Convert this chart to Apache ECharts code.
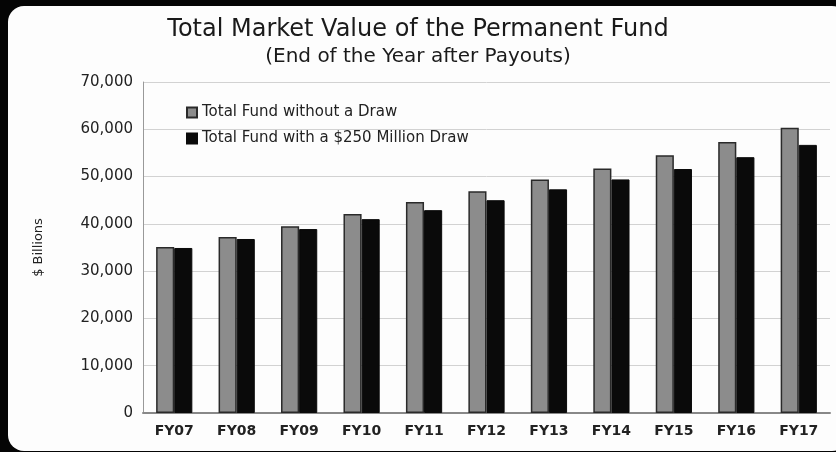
<!DOCTYPE html>
<html>
<head>
    <meta charset="UTF-8">
    <title>Permanent Fund</title>
    <script src="https://cdn.jsdelivr.net/npm/echarts@6/dist/echarts.min.js"></script>
    <style>
        html, body { margin: 0; padding: 0; background: #050505; }
        #frame {
            position: absolute; left: 8px; top: 6px; width: 840px; height: 445px;
            background: #fdfdfd; border-radius: 16px; overflow: hidden;
        }
        #main { position: absolute; left: -8px; top: -6px; width: 836px; height: 452px; }
    </style>
</head>
<body>
<div id="frame">
    <div id="main"></div>
</div>
<script>
    // values
    var years = ['FY07', 'FY08', 'FY09', 'FY10', 'FY11', 'FY12', 'FY13', 'FY14', 'FY15', 'FY16', 'FY17'];
    var noDraw = [35100, 37200, 39500, 42100, 44600, 46900, 49400, 51700, 54500, 57300, 60300];
    var withDraw = [34900, 36800, 38900, 41000, 42900, 45000, 47300, 49400, 51600, 54100, 56700];
    var seriesNames = ['Total Fund without a Draw', 'Total Fund with a $250 Million Draw'];

    var myChart = echarts.init(document.getElementById('main'));
    var font = '"DejaVu Sans", Verdana, sans-serif';

    var option = {
        backgroundColor: 'transparent',
        animation: false,
        title: {
            text: 'Total Market Value of the Permanent Fund',
            subtext: '(End of the Year after Payouts)',
            left: 'center',
            top: 13,
            itemGap: 5,
            textStyle: { fontFamily: font, fontSize: 24, fontWeight: 'normal', color: '#1a1a1a' },
            subtextStyle: { fontFamily: font, fontSize: 20, color: '#1a1a1a' }
        },
        legend: {
            orient: 'vertical',
            left: 181,
            top: 100,
            itemWidth: 10,
            itemHeight: 10,
            itemGap: 11,
            icon: 'rect',
            textStyle: { fontFamily: font, fontSize: 15, color: '#222' },
            data: seriesNames
        },
        grid: { left: 143, right: 6, top: 82, bottom: 39 },
        xAxis: {
            type: 'category',
            data: years,
            axisLine: { lineStyle: { color: '#888', width: 2 } },
            axisTick: { show: false },
            axisLabel: { fontFamily: font, fontSize: 14, fontWeight: 'bold', color: '#222', margin: 11 }
        },
        yAxis: {
            type: 'value',
            min: 0,
            max: 70000,
            interval: 10000,
            name: '$ Billions',
            nameLocation: 'middle',
            nameGap: 98,
            nameTextStyle: { fontFamily: font, fontSize: 13, color: '#222' },
            axisLine: { show: true, lineStyle: { color: '#999', width: 1 } },
            axisTick: { show: false },
            axisLabel: {
                fontFamily: font, fontSize: 15, color: '#222', margin: 10,
                formatter: function (v) { return v.toLocaleString('en-US'); }
            },
            splitLine: { lineStyle: { color: '#d2d2d2', width: 1 } }
        },
        series: [
            {
                name: seriesNames[0],
                type: 'bar',
                barGap: '0%',
                barCategoryGap: '42%',
                itemStyle: { color: '#8c8c8c', borderColor: '#2a2a2a', borderWidth: 1.5 },
                data: noDraw
            },
            {
                name: seriesNames[1],
                type: 'bar',
                itemStyle: { color: '#0a0a0a', borderColor: '#0a0a0a', borderWidth: 1 },
                data: withDraw
            }
        ]
    };

    myChart.setOption(option);
</script>
</body>
</html>
